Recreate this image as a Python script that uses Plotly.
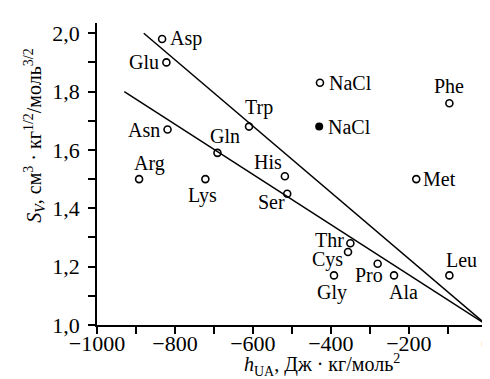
import plotly.graph_objects as go

# ---- data ----
names = ["Asp", "Glu", "Asn", "Arg", "Lys", "Gln", "Trp", "NaCl", "Phe", "His",
         "Met", "Ser", "Thr", "Cys", "Gly", "Pro", "Ala", "Leu"]
h_ua = [-833, -822, -819, -892, -722, -691, -610, -428, -96, -518,
        -181, -512, -350, -356, -392, -280, -238, -96]
s_v = [1.98, 1.90, 1.67, 1.50, 1.50, 1.59, 1.68, 1.83, 1.76, 1.51,
       1.50, 1.45, 1.28, 1.25, 1.17, 1.21, 1.17, 1.17]

nacl_filled_x = [-430]
nacl_filled_y = [1.68]
nacl_filled_name = ["NaCl"]

line1_x = [-880, 0]
line1_y = [2.0, 1.0]
line2_x = [-930, 0]
line2_y = [1.80, 1.0]

x_ticks = [-1000, -800, -600, -400, -200, 0]
x_ticklabels = ["\u22121000", "\u2212800", "\u2212600", "\u2212400", "\u2212200", "0"]
y_ticks = [1.0, 1.2, 1.4, 1.6, 1.8, 2.0]
y_ticklabels = ["1,0", "1,2", "1,4", "1,6", "1,8", "2,0"]

# label placement (anchor, xshift px, yshift px)
label_pos = {
    "Asp": ("left", 6, 1), "Glu": ("right", -5, 0), "Asn": ("right", -6, 0),
    "Arg": ("center", 10, 16), "Lys": ("center", -3, -16), "Gln": ("center", 8, 17),
    "Trp": ("center", 10, 19), "NaCl": ("left", 7, 0), "Phe": ("center", 0, 17),
    "His": ("center", -17, 14), "Met": ("left", 5, 0), "Ser": ("center", -16, -8),
    "Thr": ("right", -4, 3), "Cys": ("right", -3, -7), "Gly": ("center", -2, -17),
    "Pro": ("center", -9, -11), "Ala": ("center", 9, -17), "Leu": ("center", 12, 15),
}

FONT = "Liberation Serif, Times New Roman, serif"
fig = go.Figure()

fig.add_trace(go.Scatter(x=line1_x, y=line1_y, mode="lines",
                         line=dict(color="black", width=1.5), cliponaxis=False))
fig.add_trace(go.Scatter(x=line2_x, y=line2_y, mode="lines",
                         line=dict(color="black", width=1.5), cliponaxis=False))
fig.add_trace(go.Scatter(x=h_ua, y=s_v, mode="markers",
                         marker=dict(symbol="circle-open", size=7, color="black",
                                     line=dict(width=1.6, color="black")),
                         cliponaxis=False))
fig.add_trace(go.Scatter(x=nacl_filled_x, y=nacl_filled_y, mode="markers",
                         marker=dict(symbol="circle", size=8, color="black"),
                         cliponaxis=False))

for n, x, y in list(zip(names, h_ua, s_v)) + list(zip(nacl_filled_name, nacl_filled_x, nacl_filled_y)):
    anc, dx, dy = label_pos[n]
    fig.add_annotation(x=x, y=y, text=n, showarrow=False, xanchor=anc, yanchor="middle",
                       xshift=dx, yshift=dy, font=dict(family=FONT, size=20, color="black"))

L, R, T, B = 89, 6, 15, 62
W, H = 490, 379
pw, ph = W - L - R, H - T - B

fig.add_annotation(xref="paper", yref="paper", x=(26 - L) / pw, y=(H - B - 127) / ph,
                   text="<i>S</i><sub><i>V</i></sub>, см<sup>3</sup> · кг<sup>1/2</sup>/моль<sup>3/2</sup>",
                   textangle=-90, showarrow=False, xanchor="center", yanchor="middle",
                   font=dict(family=FONT, size=20, color="black"))
fig.add_annotation(xref="paper", yref="paper", x=(317 - L) / pw, y=-(357 - (H - B)) / ph,
                   text="<i>h</i><sub>UA</sub>, Дж · кг/моль<sup>2</sup>",
                   showarrow=False, xanchor="center", yanchor="middle",
                   font=dict(family=FONT, size=20, color="black"))

fig.update_layout(
    width=W, height=H, margin=dict(l=L, r=R, t=T, b=B),
    plot_bgcolor="white", paper_bgcolor="white", showlegend=False,
    font=dict(family=FONT, size=20, color="black"),
    xaxis=dict(range=[-1000, 0.5], tickvals=x_ticks, ticktext=x_ticklabels,
               showgrid=False, zeroline=False, showline=True, linecolor="black", linewidth=1.5,
               ticks="outside", ticklen=7, tickwidth=1.5, tickcolor="black",
               ticklabelstandoff=-9, ticklabeloverflow="allow",
               minor=dict(dtick=100, ticks="outside", ticklen=7, tickwidth=1.5, tickcolor="black",
                          showgrid=False),
               tickfont=dict(family=FONT, size=22)),
    yaxis=dict(range=[1.0, 2.035], tickvals=y_ticks, ticktext=y_ticklabels,
               showgrid=False, zeroline=False, showline=True, linecolor="black", linewidth=1.5,
               ticks="outside", ticklen=7, tickwidth=1.5, tickcolor="black",
               ticklabelstandoff=4,
               minor=dict(dtick=0.1, ticks="outside", ticklen=7, tickwidth=1.5, tickcolor="black",
                          showgrid=False),
               tickfont=dict(family=FONT, size=22)),
)

fig.write_html("out.html")
